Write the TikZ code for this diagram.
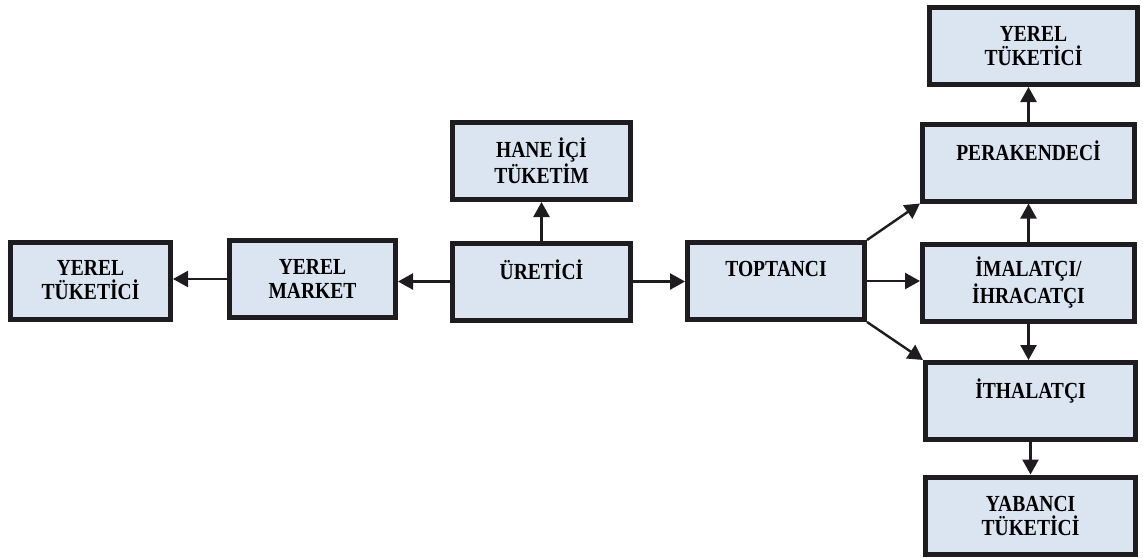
\documentclass[tikz,border=0pt]{standalone}
\usepackage{fontspec}
\newfontfamily\boxfont[FakeStretch=0.85]{Liberation Serif}
\usetikzlibrary{arrows.meta}
\definecolor{boxfill}{RGB}{219,229,241}
\definecolor{boxline}{RGB}{30,28,30}

\begin{document}
\begin{tikzpicture}[x=0.5pt,y=-0.5pt,
    kutu/.style={draw=boxline, fill=boxfill, line width=2.5pt, inner sep=0pt,
        minimum height=38.5pt, align=center,
        font=\boxfont\bfseries\fontsize{11.5}{12}\selectfont},
    ok/.style={-{Triangle[length=7.5pt,width=8pt]}, line width=1.2pt, draw=boxline}]
    \useasboundingbox (0,0) rectangle (1143,557);

    % left side
    \node[kutu, minimum width=80pt] (yerel) at (90.5,280.5) {YEREL\\TÜKETİCİ};
    \node[kutu, minimum width=83pt] (market) at (312.5,279) {YEREL\\MARKET};
    \node[kutu, minimum width=89pt] (uretici) at (541.5,281.5) {ÜRETİCİ\\~};
    \node[kutu, minimum width=89pt] (hane) at (541.5,161) {HANE İÇİ\\TÜKETİM};
    \node[kutu, minimum width=88.5pt] (toptanci) at (776,281) {TOPTANCI\\~};

    % right column
    \node[kutu, minimum width=104pt] (yerel2) at (1033.5,46) {YEREL\\TÜKETİCİ};
    \node[kutu, minimum width=106pt] (perakende) at (1028.5,162.5) {PERAKENDECİ\\~};
    \node[kutu, minimum width=106pt] (imalatci) at (1028.5,282.5) {İMALATÇI/\\İHRACATÇI};
    \node[kutu, minimum width=105pt] (ithalatci) at (1030.5,401) {İTHALATÇI\\~};
    \node[kutu, minimum width=105pt] (yabanci) at (1030.5,515.5) {YABANCI\\TÜKETİCİ};

    \draw[ok] (market.west) -- (market.west -| yerel.east);
    \draw[ok] (uretici.west) -- (uretici.west -| market.east);
    \draw[ok] (uretici) -- (hane);
    \draw[ok] (uretici.east) -- (uretici.east -| toptanci.west);

    \draw[ok] (toptanci.north east) -- (perakende.south west);
    \draw[ok] (toptanci.east) -- (toptanci.east -| imalatci.west);
    \draw[ok] (toptanci.south east) -- (ithalatci.north west);

    \foreach \a/\b in {perakende/yerel2, imalatci/perakende}
    {
        \draw[ok] (\a.north) -- (\a.north |- \b.south);
    }
    \foreach \a/\b in {imalatci/ithalatci, ithalatci/yabanci}
    {
        \draw[ok] (\a.south) -- (\a.south |- \b.north);
    }

\end{tikzpicture}
\end{document}
